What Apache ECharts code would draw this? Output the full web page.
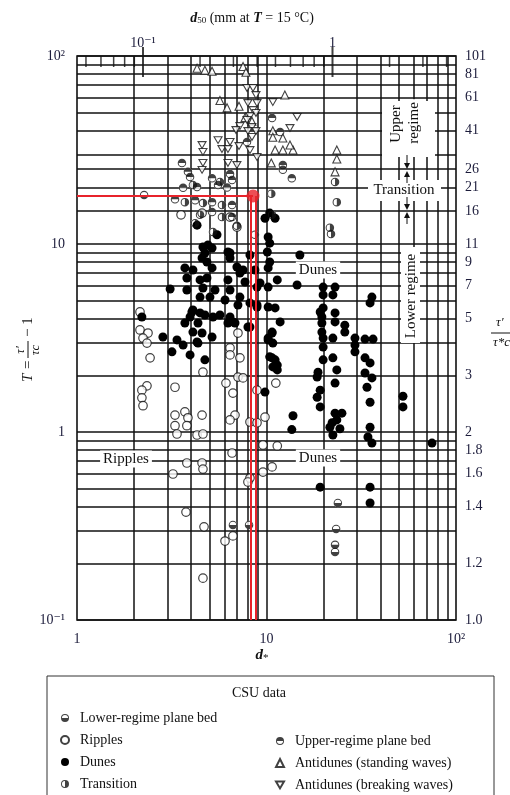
<!DOCTYPE html>
<html>
<head>
<meta charset="utf-8">
<title>Bedform classification, CSU data</title>
<script src="https://cdn.jsdelivr.net/npm/echarts@6.0.0/dist/echarts.min.js"></script>
<style>
html, body { margin: 0; padding: 0; background: #fff; }
#chart { width: 510px; height: 795px; }
</style>
</head>
<body>
<div id="chart"></div>
<script>
// CSU data: d* against transport stage T = tau'/tau_c - 1 (log-log)
var lowerPlane = [[6.65,0.32],[8.09,0.32],[23.8,0.419],[23.3,0.305],[23,0.251],[23,0.23],[2.26,18.2]]

var ripples = [
	[2.15,4.35],[2.15,3.49],[2.37,3.36],[2.23,3.16],[2.34,2.97],[2.43,2.48],[2.34,1.76],[2.2,1.67],[2.2,1.52],[2.23,1.38],
	[3.29,1.73],[3.29,1.23],[3.71,1.28],[3.85,1.19],[4.57,1.23],[3.29,1.08],[3.8,1.08],[3.37,0.976],[4.3,0.964],[4.62,0.976],
	[4.62,2.08],[6.42,2.8],[6.42,2.57],[7.24,2.48],[7.07,3.36],[7.07,1.96],[7.52,1.94],[6.11,1.82],[6.65,1.61],[6.82,1.23],
	[6.42,1.16],[8.18,1.13],[8.91,1.67],[11.2,1.82],[9.82,1.2],[8.91,1.12],[9.58,0.853],[11.4,0.843],[6.58,0.773],[3.8,0.684],
	[4.57,0.684],[4.62,0.635],[3.21,0.598],[8.18,0.569],[10.7,0.652],[9.58,0.612],[7.98,0.542],[3.76,0.375],[4.68,0.313],
	[6.04,0.263],[6.65,0.28],[4.62,0.167],[3.54,14.3],[4.57,14.6],[6.42,13.9],[6.98,12.3]
]

var dunes = [
	[4.62,9.64],[4.91,9.88],[5.16,9.52],[4.73,8.96],[4.57,8.42],[4.85,8.02],[6.26,9.07],[6.42,8.42],[8.18,8.74],
	[10.2,10.9],[10.4,10.1],[10.1,9.07],[10.4,8.02],[10.2,7.46],[9.82,13.7],[10.4,14.6],[11.1,13.7],
	[3.71,7.46],[4.09,7.27],[5.16,7.46],[6.98,7.55],[7.52,7.27],[8.69,7.27],[3.8,6.59],[4.46,6.44],[4.85,6.59],
	[6.26,6.44],[7.7,6.28],[11.4,6.44],[14.5,6.05],[3.1,5.76],[3.8,5.69],[4.62,5.83],[5.35,5.69],[6.42,5.69],
	[7.24,5.22],[8.91,5.9],[10.2,5.9],[4.46,5.22],[5.03,5.22],[6.04,5.04],[7.07,4.74],[8.91,4.62],[10.2,4.62],
	[11.1,4.57],[4.09,4.46],[3.95,4.09],[4.73,4.19],[5.68,4.19],[6.42,4.09],[3.71,3.8],[4.35,3.8],[8.18,3.62],
	[11.8,3.85],[2.2,4.09],[2.84,3.2],[3.37,3.09],[3.63,2.9],[3.17,2.67],[3.95,2.57],[4.73,2.42],[4.09,3.4],
	[4.57,3.36],[5.16,3.2],[4.35,2.97],[6.26,3.8],[6.82,3.8],[10.2,3.16],[10.8,2.97],[10.7,3.36],[10.4,2.51],
	[11.1,2.42],[10.8,2.22],[11.4,2.14],[9.82,1.63],[8.91,4.74],[9.24,6.21],[4.04,4.35],[4.46,4.3],[5.22,4.09],
	[6.65,3.85],[7.98,3.62],[8.18,4.86],[4.3,3.01],[4.3,12.6],[5.48,11.2],[6.42,8.96],[7.24,7.01],[15,8.74],
	[19.9,5.9],[23,5.9],[19.9,5.36],[22.4,5.36],[36,5.22],[35.2,4.86],[19.9,4.57],[19.2,4.35],[19.6,4.09],
	[23,4.3],[23,3.85],[25.9,3.7],[25.9,3.4],[19.6,3.8],[19.6,3.4],[19.9,3.16],[22.4,3.16],[29.3,3.16],
	[29.3,2.9],[29.3,2.67],[33.1,3.12],[36.5,3.12],[19.9,2.83],[19.9,2.42],[22.4,2.48],[23.5,2.14],[18.7,2.08],
	[18.5,1.96],[33.1,2.48],[35.2,2.33],[33.1,2.06],[36,1.94],[23,1.82],[33.9,1.73],[19.2,1.67],[18.5,1.53],
	[19.2,1.36],[35.2,1.44],[13.8,1.22],[13.6,1.03],[23,1.26],[25,1.26],[22.2,1.12],[23.5,1.16],[21.6,1.06],
	[24.4,1.04],[22.4,0.964],[35.2,1.06],[34.3,0.94],[36,0.873],[52.5,1.55],[52.5,1.36],[74.7,0.873],
	[19.2,0.509],[35.2,0.509],[35.2,0.419],[10.7,3.4],[10.7,2.48],[11.4,2.27],[10.2,3.09]
]

var transition = [
	[23,21.4],[23.5,16.7],[21.6,12.2],[21.9,11.3],[8.69,11.2],[3.71,16.7],[4.62,16.5],[5.82,16.1],[4.46,14.3],
	[5.82,13.9],[4.2,12.9],[5.22,11.6],[6.98,12.5],[10.7,14.3],[10.6,18.5],[4.09,20.6],[5.68,21.4]
]

var upperPlane = [
	[10.7,46.8],[11.8,39.4],[12.2,26.3],[12.2,24.8],[13.6,22.4],[3.58,27],[3.85,24.2],[3.95,22.7],[5.16,22.4],
	[6.42,23.6],[6.58,21.9],[7.89,34.9],[3.63,19.9],[3.29,17.3],[4.2,17.1],[5.16,16.7],[6.58,16.1],[5.16,14.8],
	[6.58,13.9],[4.3,20.1],[5.55,20.6],[6.19,20]
]

var standing = [
	[4.3,86],[4.73,84],[5.16,83],[7.52,88],[7.79,82],[5.68,58],[6.19,53],[7.16,54],[12.5,62],[7.7,47],[8.38,45],
	[10.8,40],[10.8,37],[12.2,36.6],[11.1,31.6],[12.2,31.6],[13.8,31.6],[10.6,27],[13.3,33.6],[23.5,31.6],[23.5,28.3],[23,24.2]
]

var breaking = [
	[7.89,67.6],[8.49,67.6],[8.8,62],[7.98,56.2],[8.91,56.2],[8.49,51.6],[8.18,47.9],[8.8,49.8],[7.24,42.4],[7.89,45.7],
	[8.38,41.9],[6.9,40.4],[5.55,35.7],[6.42,34.9],[5.82,32],[6.26,32],[7.16,33.2],[4.57,33.6],[4.62,30.9],[7.98,39.9],
	[8.8,39.9],[8.38,37.1],[8.18,31.6],[8.91,29],[6.26,27],[6.98,26.3],[4.62,27],[4.57,24.8],[10.8,56.9],[14.5,47.4],[13.3,41.4]
]

// highlighted example and its read-off lines
var highlight = [[8.49, 18.0]]
var redGuides = [8.3, 8.75]

// grid lines and ticks
var xGrid = [2,3,4,5,6,7,8,9,10,20,30,40,50,60,70,80,90]
var yGrid = [0.1,0.2,0.3,0.4,0.5,0.6,0.7,0.8,0.9,1,2,3,4,5,6,7,8,9,10,15,20,25,30,40,50,60,70,80,90,100]
var rightTicks = [100,80,60,40,25,20,15,10,8,6,4,2,1,0.8,0.6,0.4,0.2,0.1]   // labelled as tau'/tau_c = T + 1
var d50Minor = [0.05,0.06,0.07,0.08,0.09,0.2,0.3,0.4,0.5,0.6,0.7,0.8,0.9,2,3,4]
var d50Major = [0.1, 1]
var D50_FACTOR = 22.3   // d* per mm of d50 at 15 degC

var SERIF = "'Liberation Serif', 'DejaVu Serif', serif"
var INK = '#111'
var LABEL = '#1b1b3a'
var RED = '#e8232b'

var RING = 'M10 0A10 10 0 1 1 10 20A10 10 0 1 1 10 0ZM10 2.4A7.6 7.6 0 1 0 10 17.6A7.6 7.6 0 1 0 10 2.4Z'
var LOWER_HALF = 'path://' + RING + 'M2.4 10L17.6 10A7.6 7.6 0 0 1 2.4 10Z'
var UPPER_HALF = 'path://' + RING + 'M17.6 10L2.4 10A7.6 7.6 0 0 1 17.6 10Z'
var RIGHT_HALF = 'path://' + RING + 'M10 17.6L10 2.4A7.6 7.6 0 0 1 10 17.6Z'
var DOWN_TRI = 'path://M0 0L20 0L10 17Z'

function powLabel(v) {
	var e = Math.log10(v)
	var r = Math.round(e)
	if (Math.abs(e - r) > 1e-6) return ''
	if (r === 0) return '1'
	if (r === 1) return '10'
	if (r === 2) return '10²'
	if (r === -1) return '10⁻¹'
	return '10^' + r
}

function rightLabel(v) {
	if (v === 0.1) return '1.0'
	return String(+(v + 1).toFixed(1))
}

var gridLines = xGrid.map(function(v) { return {xAxis: v} })
yGrid.forEach(function(v) {
	var item = {yAxis: v}
	if (rightTicks.indexOf(v) >= 0) {
		item.label = {show: true, position: 'end', distance: 9, formatter: rightLabel(v),
			color: LABEL, fontSize: 14, fontFamily: SERIF}
	}
	gridLines.push(item)
})

var redLines = [[{coord: [1, highlight[0][1]]}, {coord: highlight[0]}]]
redGuides.forEach(function(d) {
	redLines.push([{coord: [d, highlight[0][1]]}, {coord: [d, 0.1]}])
})

var myEchart = echarts.init(document.getElementById('chart'), null, {renderer: 'canvas'})

var textBase = {fontFamily: SERIF, fontSize: 15, fill: INK}
function note(text, x, y, rot) {
	return {
		type: 'text', x: x, y: y, z: 100, rotation: rot || 0,
		style: Object.assign({}, textBase, {text: text, align: 'center', verticalAlign: 'middle',
			backgroundColor: '#fff', padding: [1, 3]})
	}
}
function arrow(x, yFrom, yTo) {
	var dir = yTo > yFrom ? 1 : -1
	return [
		{type: 'line', z: 100, shape: {x1: x, y1: yFrom, x2: x, y2: yTo - dir * 4}, style: {stroke: INK, lineWidth: 1}},
		{type: 'polygon', z: 100, shape: {points: [[x - 3, yTo - dir * 6], [x + 3, yTo - dir * 6], [x, yTo]]}, style: {fill: INK}}
	]
}

var graphics = [
	// white patches behind the regime labels
	{type: 'rect', z: 99, shape: {x: 382, y: 101, width: 53, height: 56}, style: {fill: '#fff'}},
	{type: 'rect', z: 99, shape: {x: 401, y: 247, width: 19, height: 96}, style: {fill: '#fff'}},
	{type: 'rect', z: 99, shape: {x: 368, y: 180, width: 73, height: 21}, style: {fill: '#fff'}},
	note('Upper', 396, 124, Math.PI / 2),
	note('regime', 414, 123, Math.PI / 2),
	note('Transition', 404, 190),
	note('Lower regime', 411, 296, Math.PI / 2),
	note('Dunes', 318, 270),
	note('Dunes', 318, 458),
	note('Ripples', 126, 459),
	// axis titles
	{
		type: 'text', x: 252, y: 18, z: 100,
		style: {text: '{i|d}{s|50} (mm at {i|T} = 15 °C)', align: 'center', verticalAlign: 'middle',
			fontFamily: SERIF, fontSize: 14, fill: INK,
			rich: {i: {fontStyle: 'italic', fontWeight: 'bold', fontSize: 14, fontFamily: SERIF},
				s: {fontSize: 9, fontFamily: SERIF, verticalAlign: 'bottom', padding: [6, 0, 0, 0]}}}
	},
	{
		type: 'text', x: 262, y: 655, z: 100,
		style: {text: '{i|d}{s|*}', align: 'center', verticalAlign: 'middle', fontFamily: SERIF, fontSize: 14, fill: INK,
			rich: {i: {fontStyle: 'italic', fontWeight: 'bold', fontSize: 15, fontFamily: SERIF},
				s: {fontSize: 11, fontFamily: SERIF, padding: [6, 0, 0, 0]}}}
	},
	{
		type: 'group', x: 28, y: 344, rotation: Math.PI / 2, z: 100,
		children: [
			{type: 'text', style: {text: 'T =', x: -38, y: 0, verticalAlign: 'middle', fontFamily: SERIF, fontSize: 15, fontStyle: 'italic', fill: INK}},
			{type: 'text', style: {text: 'τ′', x: -6, y: -7, align: 'center', verticalAlign: 'middle', fontFamily: SERIF, fontSize: 13, fontStyle: 'italic', fill: INK}},
			{type: 'line', shape: {x1: -14, y1: 0, x2: 3, y2: 0}, style: {stroke: INK, lineWidth: 1}},
			{type: 'text', style: {text: 'τc', x: -6, y: 8, align: 'center', verticalAlign: 'middle', fontFamily: SERIF, fontSize: 13, fontStyle: 'italic', fill: INK}},
			{type: 'text', style: {text: '− 1', x: 7, y: 0, verticalAlign: 'middle', fontFamily: SERIF, fontSize: 15, fill: INK}}
		]
	},
	{type: 'text', z: 100, style: {text: 'τ′', x: 496, y: 323, verticalAlign: 'middle', fontFamily: SERIF, fontSize: 13, fontStyle: 'italic', fill: INK}},
	{type: 'line', z: 100, shape: {x1: 491, y1: 333, x2: 512, y2: 333}, style: {stroke: INK, lineWidth: 1}},
	{type: 'text', z: 100, style: {text: 'τ*c', x: 493, y: 343, verticalAlign: 'middle', fontFamily: SERIF, fontSize: 13, fontStyle: 'italic', fill: INK}},
	// legend frame
	{type: 'rect', z: 50, shape: {x: 47, y: 676, width: 447, height: 130}, style: {fill: 'none', stroke: '#333', lineWidth: 1}},
	{type: 'text', z: 100, style: {text: 'CSU data', x: 259, y: 693, align: 'center', verticalAlign: 'middle', fontFamily: SERIF, fontSize: 14, fill: INK}}
].concat(arrow(407, 155, 169), arrow(407, 183, 171), arrow(407, 197, 210), arrow(407, 224, 212))

var legendText = {fontFamily: SERIF, fontSize: 14, color: INK, padding: [0, 0, 0, 6]}

var option = {
	animation: false,
	backgroundColor: '#fff',
	grid: {left: 77, right: 54, top: 56, bottom: 175, show: true, borderColor: INK, borderWidth: 1.6, backgroundColor: 'transparent'},
	xAxis: [{
		type: 'log', min: 1, max: 100, position: 'bottom',
		axisLine: {show: false}, axisTick: {show: false}, splitLine: {show: false},
		axisLabel: {formatter: powLabel, margin: 12, color: LABEL, fontSize: 14, fontFamily: SERIF}
	}, {
		type: 'log', min: 1 / D50_FACTOR, max: 100 / D50_FACTOR, position: 'top',
		axisLine: {show: false}, axisTick: {show: false}, splitLine: {show: false},
		axisLabel: {formatter: powLabel, margin: 6, color: LABEL, fontSize: 14, fontFamily: SERIF, showMinLabel: false, showMaxLabel: false}
	}],
	yAxis: [{
		type: 'log', min: 0.1, max: 100,
		axisLine: {show: false}, axisTick: {show: false}, splitLine: {show: false},
		axisLabel: {formatter: powLabel, margin: 12, color: LABEL, fontSize: 14, fontFamily: SERIF}
	}],
	legend: [{
		data: ['Lower-regime plane bed', 'Ripples', 'Dunes', 'Transition'],
		left: 55, top: 706, height: 110, orient: 'vertical', itemWidth: 8, itemHeight: 8, itemGap: 8,
		selectedMode: false, textStyle: legendText
	}, {
		data: ['Upper-regime plane bed', 'Antidunes (standing waves)', 'Antidunes (breaking waves)'],
		left: 270, top: 729, height: 90, orient: 'vertical', itemWidth: 8, itemHeight: 8, itemGap: 8,
		selectedMode: false, textStyle: legendText
	}],
	graphic: graphics,
	series: [{
		name: 'grid lines', type: 'line', data: [], z: 1, silent: true,
		markLine: {silent: true, symbol: 'none', z: 1, animation: false, label: {show: false},
			lineStyle: {color: '#111', width: 1.5, type: 'solid'}, emphasis: {disabled: true}, data: gridLines}
	}, {
		name: 'd50 minor ticks', type: 'scatter', xAxisIndex: 1, clip: false, silent: true, z: 4,
		data: d50Minor.map(function(v) { return [v, 100] }),
		symbol: 'rect', symbolSize: [1.5, 11], symbolOffset: [0, 5.5], itemStyle: {color: INK}
	}, {
		name: 'd50 major ticks', type: 'scatter', xAxisIndex: 1, clip: false, silent: true, z: 4,
		data: d50Major.map(function(v) { return [v, 100] }),
		symbol: 'rect', symbolSize: [2, 30], symbolOffset: [0, 6], itemStyle: {color: INK}
	}, {
		name: 'plane bed base', type: 'scatter', silent: true, z: 2,
		data: lowerPlane.concat(upperPlane, transition),
		symbol: 'circle', symbolSize: 8.5, itemStyle: {color: '#fff'}
	}, {
		name: 'Ripples', type: 'scatter', data: ripples, z: 3,
		symbol: 'circle', symbolSize: 8.5, itemStyle: {color: '#fff', borderColor: INK, borderWidth: 1.2}
	}, {
		name: 'Dunes', type: 'scatter', data: dunes, z: 3,
		symbol: 'circle', symbolSize: 9, itemStyle: {color: '#000', opacity: 1}
	}, {
		name: 'Lower-regime plane bed', type: 'scatter', data: lowerPlane, z: 3,
		symbol: LOWER_HALF, symbolSize: 8.5, symbolKeepAspect: true, itemStyle: {color: INK}
	}, {
		name: 'Upper-regime plane bed', type: 'scatter', data: upperPlane, z: 3,
		symbol: UPPER_HALF, symbolSize: 8.5, symbolKeepAspect: true, itemStyle: {color: INK}
	}, {
		name: 'Transition', type: 'scatter', data: transition, z: 3,
		symbol: RIGHT_HALF, symbolSize: 8.5, symbolKeepAspect: true, itemStyle: {color: INK}
	}, {
		name: 'Antidunes (standing waves)', type: 'scatter', data: standing, z: 3,
		symbol: 'triangle', symbolSize: 8, itemStyle: {color: '#fff', borderColor: INK, borderWidth: 1.1}
	}, {
		name: 'Antidunes (breaking waves)', type: 'scatter', data: breaking, z: 3,
		symbol: DOWN_TRI, symbolSize: 8, symbolKeepAspect: true, itemStyle: {color: '#fff', borderColor: INK, borderWidth: 1.1}
	}, {
		name: 'highlight', type: 'scatter', data: highlight, z: 6, silent: true,
		symbol: 'circle', symbolSize: 13, itemStyle: {color: RED},
		markLine: {silent: true, symbol: 'none', z: 6, animation: false, label: {show: false},
			lineStyle: {color: RED, width: 2, type: 'solid'}, emphasis: {disabled: true}, data: redLines}
	}]
}
myEchart.setOption(option)
</script>
</body>
</html>
